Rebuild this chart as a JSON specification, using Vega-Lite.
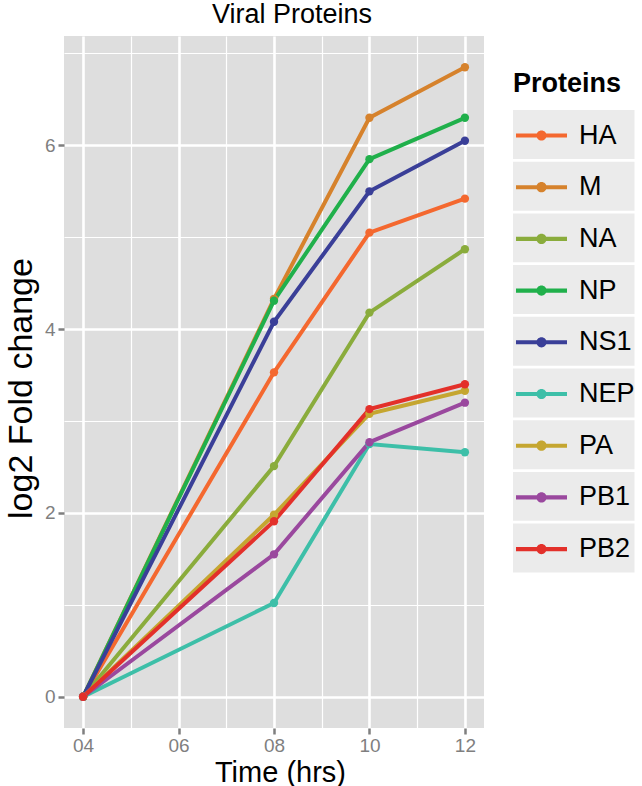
{
  "$schema": "https://vega.github.io/schema/vega-lite/v6.json",
  "width": 420,
  "height": 692,
  "autosize": {"type": "none"},
  "padding": {"left": 64, "top": 36, "right": 158, "bottom": 58},
  "background": "white",
  "config": {
    "font": "Liberation Sans",
    "view": {"fill": "#dedede", "stroke": null},
    "title": {"fontSize": 27, "fontWeight": "normal", "color": "black", "offset": 7}
  },
  "title": {"text": "Viral Proteins", "anchor": "middle", "dx": 18},
  "data": {"values": [
    {"time": 4, "protein": "HA", "value": 0}, {"time": 8, "protein": "HA", "value": 3.53}, {"time": 10, "protein": "HA", "value": 5.05}, {"time": 12, "protein": "HA", "value": 5.42},
    {"time": 4, "protein": "M", "value": 0}, {"time": 8, "protein": "M", "value": 4.33}, {"time": 10, "protein": "M", "value": 6.3}, {"time": 12, "protein": "M", "value": 6.85},
    {"time": 4, "protein": "NA", "value": 0}, {"time": 8, "protein": "NA", "value": 2.51}, {"time": 10, "protein": "NA", "value": 4.18}, {"time": 12, "protein": "NA", "value": 4.87},
    {"time": 4, "protein": "NP", "value": 0}, {"time": 8, "protein": "NP", "value": 4.31}, {"time": 10, "protein": "NP", "value": 5.85}, {"time": 12, "protein": "NP", "value": 6.3},
    {"time": 4, "protein": "NS1", "value": 0}, {"time": 8, "protein": "NS1", "value": 4.08}, {"time": 10, "protein": "NS1", "value": 5.5}, {"time": 12, "protein": "NS1", "value": 6.05},
    {"time": 4, "protein": "NEP", "value": 0}, {"time": 8, "protein": "NEP", "value": 1.02}, {"time": 10, "protein": "NEP", "value": 2.75}, {"time": 12, "protein": "NEP", "value": 2.66},
    {"time": 4, "protein": "PA", "value": 0}, {"time": 8, "protein": "PA", "value": 1.98}, {"time": 10, "protein": "PA", "value": 3.08}, {"time": 12, "protein": "PA", "value": 3.33},
    {"time": 4, "protein": "PB1", "value": 0}, {"time": 8, "protein": "PB1", "value": 1.55}, {"time": 10, "protein": "PB1", "value": 2.77}, {"time": 12, "protein": "PB1", "value": 3.2},
    {"time": 4, "protein": "PB2", "value": 0}, {"time": 8, "protein": "PB2", "value": 1.91}, {"time": 10, "protein": "PB2", "value": 3.13}, {"time": 12, "protein": "PB2", "value": 3.4}
  ]},
  "encoding": {
    "color": {
      "field": "protein",
      "type": "nominal",
      "scale": {
        "domain": ["HA", "M", "NA", "NP", "NS1", "NEP", "PA", "PB1", "PB2"],
        "range": ["#f4682f", "#d6822c", "#8aac3c", "#20b04b", "#3a3f98", "#3dbfa8", "#c5a630", "#9a489e", "#e3302a"]
      },
      "legend": {
        "title": "Proteins",
        "orient": "none",
        "legendX": 449,
        "legendY": 35,
        "titleFontSize": 27,
        "titleFontWeight": "bold",
        "titleColor": "black",
        "titlePadding": 12,
        "labelFontSize": 27,
        "labelColor": "black",
        "labelOffset": 12,
        "symbolType": "M-1,-0.08H1V0.08H-1Z M0.2,0A0.2,0.2,0,1,1,-0.2,0A0.2,0.2,0,1,1,0.2,0Z M0,-0.92L0,0.92",
        "symbolSize": 2601,
        "symbolStrokeWidth": 0,
        "rowPadding": 2.7,
        "symbolOffset": 3,
        "encode": {
          "symbols": {"update": {"fill": {"scale": "color", "field": "value"}, "strokeWidth": {"value": 0}}},
          "entries": {"update": {"fill": {"value": "#ebebeb"}, "width": {"value": 57}, "height": {"value": 47}}}
        }
      }
    }
  },
  "layer": [
    {
      "mark": {"type": "line", "strokeWidth": 4},
      "encoding": {
        "x": {
          "field": "time", "type": "quantitative",
          "scale": {"domain": [3.6, 12.4], "nice": false, "zero": false},
          "axis": {
            "title": "Time (hrs)", "titleFontSize": 29, "titleFontWeight": "normal", "titleColor": "black", "titlePadding": 3, "titleX": 216,
            "values": [4, 6, 8, 10, 12],
            "labelExpr": "datum.value < 10 ? '0' + datum.value : '' + datum.value",
            "labelFontSize": 19, "labelColor": "#7f7f7f", "labelPadding": 2,
            "tickColor": "#7f7f7f", "tickWidth": 2.5, "tickSize": 6,
            "domain": false,
            "grid": true, "gridColor": "white", "gridWidth": 2.6
          }
        },
        "y": {
          "field": "value", "type": "quantitative",
          "scale": {"domain": [-0.34, 7.19], "nice": false, "zero": false},
          "axis": {
            "title": "log2 Fold change", "titleFontSize": 34, "titleFontWeight": "normal", "titleColor": "black", "titlePadding": 6, "titleY": 352,
            "values": [0, 2, 4, 6],
            "labelFontSize": 19, "labelColor": "#7f7f7f", "labelPadding": 3,
            "tickColor": "#7f7f7f", "tickWidth": 2.5, "tickSize": 6,
            "domain": false,
            "grid": true, "gridColor": "white", "gridWidth": 2.6
          }
        }
      }
    },
    {
      "mark": {"type": "point", "filled": true, "size": 70, "opacity": 1},
      "encoding": {
        "x": {
          "field": "time", "type": "quantitative",
          "axis": {"orient": "bottom", "title": null, "labels": false, "ticks": false, "domain": false, "values": [5, 7, 9, 11], "grid": true, "gridColor": "white", "gridWidth": 1.2}
        },
        "y": {
          "field": "value", "type": "quantitative",
          "axis": {"orient": "left", "title": null, "labels": false, "ticks": false, "domain": false, "values": [1, 3, 5, 7], "grid": true, "gridColor": "white", "gridWidth": 1.2}
        }
      }
    }
  ],
  "resolve": {"axis": {"x": "independent", "y": "independent"}}
}
